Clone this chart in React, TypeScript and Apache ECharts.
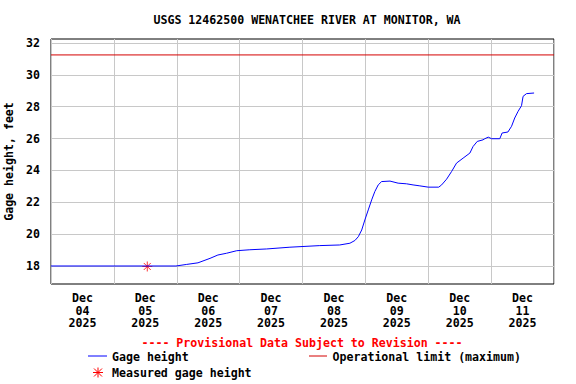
import React, { useEffect, useRef } from "react";
import * as echarts from "echarts";

const title = "USGS 12462500 WENATCHEE RIVER AT MONITOR, WA";
const yAxisName = "Gage height, feet";
const dayLabels = ["Dec\n04\n2025", "Dec\n05\n2025", "Dec\n06\n2025", "Dec\n07\n2025", "Dec\n08\n2025", "Dec\n09\n2025", "Dec\n10\n2025", "Dec\n11\n2025"];
const yTicks = [18, 20, 22, 24, 26, 28, 30, 32];

// hours since Dec 04 00:00
const gageHours = [0, 47.7, 51.8, 56.1, 60.7, 63.7, 67.0, 70.9, 75.9, 82.3, 91.2, 102.6, 110.2, 114.1, 116.0, 117.3, 118.6, 119.8, 121.1, 122.4, 123.6, 124.9, 126.2, 129.4, 132.5, 135.7, 138.2, 140.8, 144.0, 148.0, 149.1, 151.0, 152.9, 154.8, 157.3, 159.9, 161.1, 162.7, 164.9, 165.6, 166.9, 168.2, 171.3, 172.2, 174.4, 175.8, 177.0, 178.3, 179.6, 180.2, 181.5, 184.4];
const gageValues = [18.0, 18.0, 18.1, 18.2, 18.48, 18.69, 18.8, 18.96, 19.02, 19.07, 19.18, 19.28, 19.32, 19.43, 19.6, 19.84, 20.26, 20.89, 21.52, 22.15, 22.67, 23.09, 23.3, 23.33, 23.2, 23.16, 23.09, 23.03, 22.95, 22.95, 23.09, 23.45, 23.93, 24.46, 24.77, 25.09, 25.5, 25.82, 25.92, 25.99, 26.09, 25.99, 25.99, 26.35, 26.41, 26.77, 27.29, 27.71, 28.06, 28.65, 28.82, 28.86];

const measuredHours = [36.75];
const measuredValues = [17.97];

const limitHours = [0, 192];
const limitValue = 31.25;

const FONT = "DejaVu Sans Mono";
const FS = 11.6;

export default function App() {
  const ref = useRef<HTMLDivElement>(null);
  useEffect(() => {
    document.body.style.margin = "0";
    if (!ref.current) return;
    const chart = echarts.init(ref.current, null, { renderer: "svg" });
    const textStyle = { fontFamily: FONT, fontWeight: "bold" as const, fontSize: FS, color: "#000" };
    const asterisk = (cx: number, cy: number, color: string) => ({
      type: "group",
      x: cx,
      y: cy,
      children: [
        { type: "line", shape: { x1: -5, y1: 0, x2: 5, y2: 0 }, style: { stroke: color, lineWidth: 1 } },
        { type: "line", shape: { x1: 0, y1: -5, x2: 0, y2: 5 }, style: { stroke: color, lineWidth: 1 } },
        { type: "line", shape: { x1: -4, y1: -4, x2: 4, y2: 4 }, style: { stroke: color, lineWidth: 1 } },
        { type: "line", shape: { x1: -4, y1: 4, x2: 4, y2: -4 }, style: { stroke: color, lineWidth: 1 } },
      ],
    });
    chart.setOption({
      animation: false,
      backgroundColor: "#fff",
      title: {
        text: title,
        left: 302,
        textAlign: "center",
        top: 9,
        textStyle: { ...textStyle, fontSize: FS },
      },
      grid: {
        left: 51,
        right: 22,
        top: 39,
        bottom: 100,
        show: true,
        borderColor: "#000",
        borderWidth: 1,
        backgroundColor: "transparent",
        containLabel: false,
        outerBoundsMode: "none",
      },
      xAxis: [
        {
          type: "value",
          min: 0,
          max: 192,
          show: false,
          splitLine: { show: false },
        },
        {
          type: "category",
          data: dayLabels,
          boundaryGap: true,
          position: "bottom",
          axisLine: { show: false },
          axisTick: { show: false },
          axisLabel: { ...textStyle, lineHeight: 12.5, margin: 8, interval: 0 },
          splitLine: { show: true, lineStyle: { color: "#c8c8c8", width: 1 } },
        },
      ],
      yAxis: {
        type: "value",
        min: 16.87,
        max: 32.25,
        name: yAxisName,
        nameLocation: "middle",
        nameGap: 31,
        nameTextStyle: { ...textStyle },
        axisLine: { show: false },
        axisTick: { show: false, customValues: yTicks },
        axisLabel: {
          ...textStyle,
          margin: 11,
          customValues: yTicks,
          formatter: (v: number) => String(v),
        },
        splitLine: { show: true, lineStyle: { color: "#c8c8c8", width: 1 } },
      },
      series: [
        {
          name: "Operational limit (maximum)",
          type: "line",
          xAxisIndex: 0,
          data: limitHours.map((h) => [h, limitValue]),
          symbol: "none",
          lineStyle: { color: "#d40000", width: 1 },
          silent: true,
        },
        {
          name: "Gage height",
          type: "line",
          xAxisIndex: 0,
          data: gageHours.map((h, i) => [h, gageValues[i]]),
          symbol: "none",
          lineStyle: { color: "#0000ff", width: 1 },
          silent: true,
        },
        {
          name: "Measured gage height",
          type: "scatter",
          xAxisIndex: 0,
          data: measuredHours.map((h, i) => [h, measuredValues[i]]),
          symbol: "path://M0,5L10,5M5,0L5,10M1.5,1.5L8.5,8.5M1.5,8.5L8.5,1.5",
          symbolSize: 10,
          itemStyle: { color: "none", borderColor: "#ff0000", borderWidth: 1 },
          silent: true,
        },
      ],
      graphic: [
        {
          type: "text",
          x: 302,
          y: 343,
          style: { text: "---- Provisional Data Subject to Revision ----", fill: "#ff0000", font: `bold ${FS}px "${FONT}"`, textAlign: "center", textVerticalAlign: "middle" },
        },
        { type: "line", shape: { x1: 88, y1: 356, x2: 107, y2: 356 }, style: { stroke: "#0000ff", lineWidth: 1 } },
        {
          type: "text",
          x: 112,
          y: 356.5,
          style: { text: "Gage height", fill: "#000", font: `bold ${FS}px "${FONT}"`, textAlign: "left", textVerticalAlign: "middle" },
        },
        { type: "line", shape: { x1: 309, y1: 356, x2: 327, y2: 356 }, style: { stroke: "#d40000", lineWidth: 1 } },
        {
          type: "text",
          x: 332.5,
          y: 356.5,
          style: { text: "Operational limit (maximum)", fill: "#000", font: `bold ${FS}px "${FONT}"`, textAlign: "left", textVerticalAlign: "middle" },
        },
        asterisk(98, 372.5, "#ff0000"),
        {
          type: "text",
          x: 112,
          y: 372.5,
          style: { text: "Measured gage height", fill: "#000", font: `bold ${FS}px "${FONT}"`, textAlign: "left", textVerticalAlign: "middle" },
        },
      ],
    });
    return () => chart.dispose();
  }, []);
  return <div ref={ref} style={{ width: 576, height: 384 }} />;
}
